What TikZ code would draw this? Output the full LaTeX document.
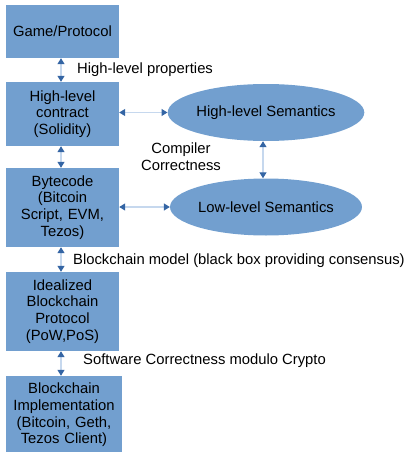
\documentclass[tikz,border=0pt]{standalone}
\usepackage{fontspec}
\setmainfont{Liberation Sans}
\usetikzlibrary{shapes.geometric, arrows.meta}
\definecolor{boxblue}{HTML}{729FCF}
\definecolor{tipblue}{HTML}{3465A4}
\definecolor{lineblue}{HTML}{C6D8EE}
\tikzset{
  layer/.style={rectangle, fill=boxblue, minimum width=113pt, text width=110pt, align=center, inner sep=1pt},
  sem/.style={ellipse, fill=boxblue, minimum width=156pt, minimum height=57pt, inner sep=0pt},
  link/.style={draw=lineblue, line width=1.2pt, {Triangle[length=6pt, width=7pt, color=tipblue]}-{Triangle[length=6pt, width=7pt, color=tipblue]}},
  lbl/.style={inner sep=0pt}
}
\begin{document}
\begin{tikzpicture}[x=1pt, y=-1pt, font=\fontsize{14.8}{16.7}\selectfont]
            \useasboundingbox (0,0) rectangle (412,452);
            % Layers
            \node[layer, minimum height=53pt] (game) at (62.5,31.5) {Game/Protocol};
            \node[layer, minimum height=64pt] (contract) at (62.5,114) {High-level\\contract\\(Solidity)};
            \node[layer, minimum height=79pt] (bytecode) at (62.5,207.5) {Bytecode (Bitcoin\\Script, EVM,\\Tezos)};
            \node[layer, minimum height=79pt] (ideal) at (62.5,311.5) {Idealized\\Blockchain\\Protocol\\(PoW,PoS)};
            \node[layer, minimum width=116pt, minimum height=78pt] (impl) at (64,415) {Blockchain\\Implementation\\(Bitcoin, Geth,\\Tezos Client)};
            % Semantics
            \node[sem] (hisem) at (266,112.5) {High-level Semantics};
            \node[sem] (losem) at (266,207) {Low-level Semantics};
            % Arrows
            \draw[link] (game.south -| 61,0) -- (contract.north -| 61,0);
            \draw[link] (contract.south -| 61,0) -- (bytecode.north -| 61,0);
            \draw[link] (bytecode.south -| 61,0) -- (ideal.north -| 61,0);
            \draw[link] (ideal.south -| 61,0) -- (impl.north -| 61,0);
            \draw[link] (contract.east |- hisem.west) -- (hisem.west);
            \draw[link] (bytecode.east |- losem.west) -- (losem.west);
            \draw[link] (hisem.south -| 263,0) -- (losem.north -| 263,0);
            % Labels
            \node[lbl, anchor=west] (props) at (77,70) {High-level properties};
            \node[lbl, align=center] (compiler) at (181,157) {Compiler\\Correctness};
            \node[lbl, anchor=west] (chainmodel) at (73,261) {Blockchain model (black box providing consensus)};
            \node[lbl, anchor=west] (software) at (83,361) {Software Correctness modulo Crypto};
        \end{tikzpicture}
\end{document}
